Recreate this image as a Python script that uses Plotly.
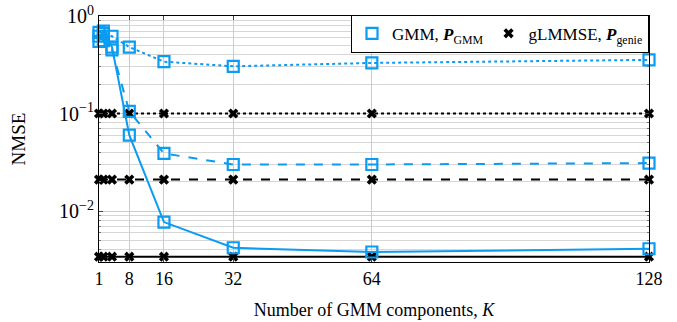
import numpy as np
import plotly.graph_objects as go

K = [1, 2, 4, 8, 16, 32, 64, 128]

gmm_solid = [0.55, 0.70, 0.48, 0.060, 0.0077, 0.0042, 0.0038, 0.0041]
gmm_dashed = [0.62, 0.56, 0.45, 0.105, 0.039, 0.030, 0.030, 0.031]
gmm_dotted = [0.68, 0.66, 0.62, 0.48, 0.34, 0.305, 0.33, 0.355]

genie_solid = [0.0034] * 8
genie_dashed = [0.021] * 8
genie_dotted = [0.10] * 8

x_ticks = [1, 8, 16, 32, 64, 128]
y_ticks = [1, 0.1, 0.01]
y_ticktext = ["10<sup>0</sup>", "10<sup>−1</sup>", "10<sup>−2</sup>"]

BLUE = "#0A9BF2"
FONT = "Liberation Serif"

fig = go.Figure()

for ys, dash in [(genie_solid, "solid"), (genie_dashed, "dash"), (genie_dotted, "dot")]:
    fig.add_trace(go.Scatter(
        x=K, y=ys, mode="lines+markers", showlegend=False, cliponaxis=False,
        line=dict(color="black", width=2, dash=dash),
        marker=dict(symbol="x", size=9, color="black", line=dict(width=0)),
    ))

for ys, dash in [(gmm_solid, "solid"), (gmm_dashed, "dash"), (gmm_dotted, "dot")]:
    fig.add_trace(go.Scatter(
        x=K, y=ys, mode="lines+markers", showlegend=False, cliponaxis=False,
        line=dict(color=BLUE, width=2, dash=dash),
        marker=dict(symbol="square-open", size=11, color=BLUE, line=dict(width=2.2)),
    ))

fig.add_trace(go.Scatter(
    x=[None], y=[None], mode="markers", name="GMM, <b><i>P</i></b><sub>GMM</sub>",
    marker=dict(symbol="square-open", size=11, color=BLUE, line=dict(width=2.2)),
))
fig.add_trace(go.Scatter(
    x=[None], y=[None], mode="markers", name="gLMMSE, <b><i>P</i></b><sub>genie</sub>",
    marker=dict(symbol="x", size=9, color="black", line=dict(width=0)),
))

fig.update_layout(
    width=677, height=322,
    margin=dict(l=99, r=28, t=16, b=60, autoexpand=False),
    paper_bgcolor="white", plot_bgcolor="white",
    font=dict(family=FONT, size=17, color="black"),
    legend=dict(
        orientation="h", x=1, y=1.005, xanchor="right", yanchor="top",
        bgcolor="white", bordercolor="black", borderwidth=1,
        font=dict(family=FONT, size=17), itemwidth=30,
        tracegroupgap=0,
    ),
)

fig.update_xaxes(
    range=[1, 128], tickmode="array", tickvals=x_ticks,
    tickfont=dict(size=18), automargin=False,
    showgrid=True, gridcolor="#cccccc", gridwidth=1,
    ticks="inside", ticklen=4, tickcolor="#444444",
    showline=True, linecolor="black", linewidth=1, mirror="ticks",
    zeroline=False,
    title=dict(text="Number of GMM components, <i>K</i>", standoff=15,
               font=dict(size=18)),
)

fig.update_yaxes(
    type="log", range=[np.log10(0.003), 0],
    tickmode="array", tickvals=y_ticks, ticktext=y_ticktext,
    tickfont=dict(size=20), automargin=False,
    showgrid=True, gridcolor="#cccccc", gridwidth=1,
    ticks="inside", ticklen=4, tickcolor="#444444",
    showline=True, linecolor="black", linewidth=1, mirror="ticks",
    minor=dict(dtick="D1", showgrid=True, gridcolor="#d6d6d6", gridwidth=1,
               ticks="inside", ticklen=2, tickcolor="#777777"),
    zeroline=False,
    title=dict(text="NMSE", standoff=28, font=dict(size=19)),
)

fig.write_html("out.html", config={"displayModeBar": False},
               post_script="document.body.style.margin='0';")
